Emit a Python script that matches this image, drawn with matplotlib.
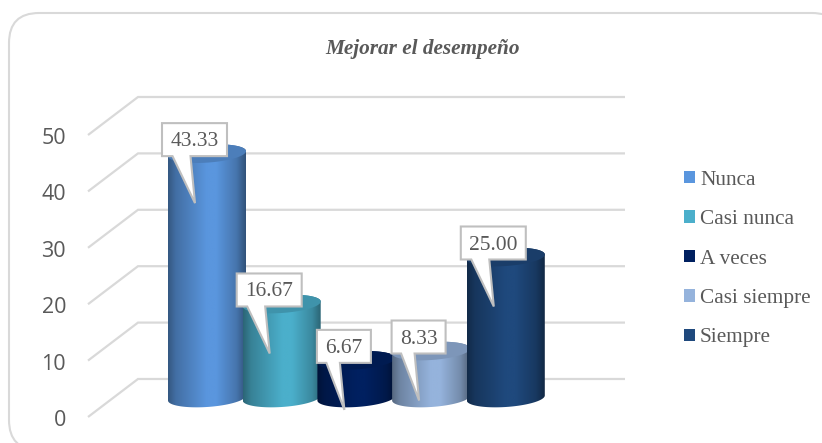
import numpy as np
import matplotlib
matplotlib.use("Agg")
import matplotlib.pyplot as plt
from matplotlib.patches import FancyBboxPatch, Polygon, Patch
from matplotlib.transforms import IdentityTransform, ScaledTranslation

# data
categories = ["Nunca", "Casi nunca", "A veces", "Casi siempre", "Siempre"]
values = [43.33, 16.67, 6.67, 8.33, 25.00]
labels = ["43.33", "16.67", "6.67", "8.33", "25.00"]
colors = ["#5A96DE", "#4BAFCB", "#002060", "#95B3DC", "#1F497D"]
ticks = [0, 10, 20, 30, 40, 50]

W, H = 822, 443
TEXT = "#595959"
GRID = "#d9d9d9"
SERIF = "Liberation Serif"

# pixels per data unit
UX = 74.7
UY = 5.64
DEPTH = 6.74  # front to back of the floor, in y units


def darken(c, f):
    return np.array(matplotlib.colors.to_rgb(c)) * f


def ellipse(cx, cy, t):
    # slightly tilted, right side sits higher like the 3d view
    x = cx + 39 / UX * np.cos(t)
    y = cy + 9 / UY * np.sin(t) + 2.5 / UY * np.cos(t)
    return np.column_stack([x, y])


fig = plt.figure(figsize=(W / 100, H / 100), dpi=100)
# the frame runs off the right and bottom of the picture
fig.patches.append(FancyBboxPatch((39, 23), 773, 377,
                                  boxstyle="round,pad=30,rounding_size=30",
                                  fc="white", ec=GRID, lw=1.5, zorder=-1,
                                  transform=IdentityTransform(), figure=fig))

ax = fig.add_axes([88 / W, 1 - 417 / H, (625 - 88) / W, (417 - 97) / H])
ax.patch.set_alpha(0)
for s in ax.spines.values():
    s.set_visible(False)

# grid, side wall then back wall
xlim = ((88 - 207) / UX, (625 - 207) / UX)
back_x = (138 - 207) / UX
for t in ticks:
    ax.plot([xlim[0], back_x, xlim[1]], [t, t + DEPTH, t + DEPTH], color=GRID,
            lw=1.6, zorder=1, clip_on=False, solid_capstyle="butt", solid_joinstyle="miter")

# cylinders
profile_x = [0, 0.1, 0.5, 0.62, 0.88, 1]
profile_f = [0.58, 0.74, 1.0, 1.0, 0.78, 0.55]
for i, (v, c) in enumerate(zip(values, colors)):
    z = 2 + i
    base = DEPTH / 2
    top = v + base
    front = ellipse(i, base, np.linspace(np.pi, 2 * np.pi, 60))
    rear = ellipse(i, top, np.linspace(0, np.pi, 60))
    body = Polygon(np.vstack([front, rear]), closed=True, fc="none", ec="none",
                   zorder=z, transform=ax.transData)
    ax.add_patch(body)
    s = np.linspace(0, 1, 200)
    f = np.interp(s, profile_x, profile_f)
    img = np.array([[darken(c, k) for k in f]])
    im = ax.imshow(img, extent=[i - 39 / UX, i + 39 / UX, base - 2, top + 2],
                   aspect="auto", zorder=z, interpolation="bilinear")
    im.set_clip_path(body)
    cap = ellipse(i, top, np.linspace(0, 2 * np.pi, 120))
    ax.add_patch(Polygon(cap, closed=True, fc=darken(c, 0.84), ec="none", zorder=z + 0.1))

# callouts with a pointer, sized in pixels around each bar top
for i, (v, lab) in enumerate(zip(values, labels)):
    top = v + DEPTH / 2
    cx = i - 12.5 / UX
    hw = (32.5 if len(lab) == 5 else 27) / UX
    y0 = top - 2.5 / UY
    y1 = y0 + 33 / UY
    tip = y0 - 47 / UY
    outline = [(cx - hw, y0), (cx - 22 / UX if len(lab) == 5 else cx - 17.5 / UX, y0), (cx + 0.5 / UX, tip),
               (cx - 4 / UX, y0), (cx + hw, y0), (cx + hw, y1), (cx - hw, y1)]
    ax.add_patch(Polygon(outline, closed=True, fc="white", ec="#bfbfbf", lw=1.5,
                         zorder=10, clip_on=False, joinstyle="miter"))
    ax.text(cx, (y0 + y1) / 2 - 2 / UY, lab, family=SERIF, fontsize=15.5, color=TEXT,
            ha="center", va="center", zorder=11)

ax.set_xlim(*xlim)
ax.set_ylim(0, 50 + DEPTH)
ax.set_xticks([])
ax.set_yticks(ticks, labels=[str(t) for t in ticks])
ax.tick_params(axis="y", length=0, pad=15.8, labelcolor=TEXT, labelsize=15.5)
for lb in ax.get_yticklabels():
    lb.set_family("Open Sans")
    lb.set_transform(lb.get_transform() + ScaledTranslation(0, -1 / 100, fig.dpi_scale_trans))

fig.text(423 / W, 1 - 49 / H, "Mejorar el desempeño", family=SERIF, style="italic",
         weight="bold", fontsize=15.3, color=TEXT, ha="center", va="center")

handles = [Patch(fc=c, ec="none", label=n) for c, n in zip(colors, categories)]
fig.legend(handles=handles, loc="center left", bbox_to_anchor=(684 / W, 1 - 259 / H),
           frameon=False, borderpad=0, borderaxespad=0, handlelength=0.52, handleheight=0.52,
           handletextpad=0.23, labelspacing=0.96,
           prop={"family": SERIF, "size": 15.3}, labelcolor=TEXT)

fig.savefig("out.png", dpi=100)
